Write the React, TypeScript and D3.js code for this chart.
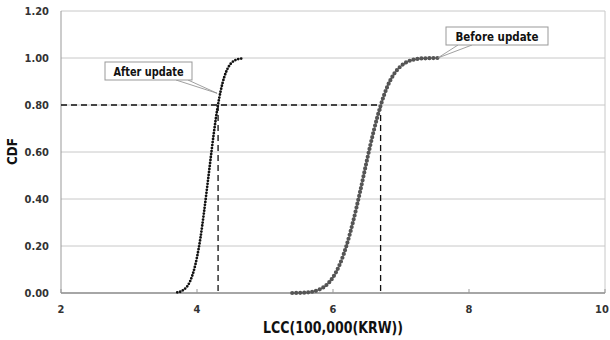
import React from "react";
import * as d3 from "d3";

// LCC (x 100,000 KRW) vs cumulative probability
const afterLcc = [3.71, 3.75, 3.8, 3.85, 3.9, 3.95, 4.0, 4.05, 4.1, 4.15, 4.2, 4.25, 4.3, 4.35, 4.4, 4.45, 4.5, 4.55, 4.6, 4.66];
const afterCdf = [0.003, 0.005, 0.013, 0.026, 0.051, 0.092, 0.152, 0.233, 0.337, 0.452, 0.571, 0.686, 0.785, 0.862, 0.918, 0.955, 0.977, 0.989, 0.995, 0.998];

const beforeLcc = [5.4, 5.6, 5.8, 5.9, 6.0, 6.1, 6.2, 6.3, 6.4, 6.5, 6.6, 6.7, 6.8, 6.9, 7.0, 7.1, 7.2, 7.3, 7.4, 7.54];
const beforeCdf = [0.0, 0.002, 0.015, 0.033, 0.067, 0.122, 0.203, 0.309, 0.433, 0.566, 0.691, 0.797, 0.879, 0.933, 0.966, 0.985, 0.994, 0.998, 0.999, 1.0];

const xTicks = [2, 4, 6, 8, 10];
const yTicks = [0, 0.2, 0.4, 0.6, 0.8, 1.0, 1.2];

const level = 0.8;
const afterAtLevel = 4.31;
const beforeAtLevel = 6.7;

const font = "'DejaVu Sans Condensed', 'DejaVu Sans', sans-serif";

export default function App() {
  const svgRef = React.useRef<SVGSVGElement>(null);
  const width = 610;
  const height = 340;

  React.useEffect(() => {
    const svg = d3.select(svgRef.current);
    svg.selectAll("*").remove();

    const x = d3.scaleLinear().domain([2, 10]).range([61, 605]);
    const y = d3.scaleLinear().domain([0, 1.2]).range([293, 11]);

    const label = (sel: any, size: number, fill = "#333") =>
      sel
        .attr("font-family", font)
        .attr("font-weight", "bold")
        .attr("font-size", size)
        .attr("fill", fill);

    /* grid + frame */
    svg
      .append("g")
      .selectAll("line")
      .data(yTicks.slice(1))
      .enter()
      .append("line")
      .attr("x1", x(2))
      .attr("x2", x(10))
      .attr("y1", (d) => y(d))
      .attr("y2", (d) => y(d))
      .attr("stroke", "#c8c8c8")
      .attr("stroke-width", 1);

    svg
      .append("line")
      .attr("x1", x(10))
      .attr("x2", x(10))
      .attr("y1", y(0))
      .attr("y2", y(1.2))
      .attr("stroke", "#c8c8c8");

    svg
      .append("line")
      .attr("x1", x(2))
      .attr("x2", x(2))
      .attr("y1", y(0))
      .attr("y2", y(1.2))
      .attr("stroke", "#999");

    svg
      .append("line")
      .attr("x1", x(2))
      .attr("x2", x(10))
      .attr("y1", y(0))
      .attr("y2", y(0))
      .attr("stroke", "#888")
      .attr("stroke-width", 1.5);

    /* x ticks (inside) */
    svg
      .append("g")
      .selectAll("line")
      .data(xTicks)
      .enter()
      .append("line")
      .attr("x1", (d) => x(d))
      .attr("x2", (d) => x(d))
      .attr("y1", y(0))
      .attr("y2", y(0) - 4)
      .attr("stroke", "#999");

    /* tick labels */
    label(
      svg
        .append("g")
        .selectAll("text")
        .data(yTicks)
        .enter()
        .append("text")
        .attr("x", 49)
        .attr("y", (d) => y(d) + 4)
        .attr("text-anchor", "end")
        .text((d) => d.toFixed(2)),
      11
    );

    label(
      svg
        .append("g")
        .selectAll("text")
        .data(xTicks)
        .enter()
        .append("text")
        .attr("x", (d) => Math.min(x(d), 602))
        .attr("y", 313)
        .attr("text-anchor", "middle")
        .text((d) => d),
      11
    );

    /* axis titles */
    label(
      svg
        .append("text")
        .attr("x", 263)
        .attr("y", 333)
        .attr("textLength", 140)
        .attr("lengthAdjust", "spacingAndGlyphs")
        .text("LCC(100,000(KRW))"),
      16,
      "#111"
    );

    label(
      svg
        .append("text")
        .attr("transform", "translate(17,165) rotate(-90)")
        .attr("textLength", 27)
        .attr("lengthAdjust", "spacingAndGlyphs")
        .text("CDF"),
      14,
      "#111"
    );

    /* dashed guides at 0.80 */
    const dash = svg.append("g").attr("stroke", "#111").attr("stroke-width", 1.3).attr("stroke-dasharray", "6 4");
    dash.append("line").attr("x1", x(2)).attr("x2", x(beforeAtLevel)).attr("y1", y(level)).attr("y2", y(level));
    dash.append("line").attr("x1", x(afterAtLevel)).attr("x2", x(afterAtLevel)).attr("y1", y(level)).attr("y2", y(0));
    dash.append("line").attr("x1", x(beforeAtLevel)).attr("x2", x(beforeAtLevel)).attr("y1", y(level)).attr("y2", y(0));

    /* curves, drawn as dotted strokes */
    const line = d3
      .line<[number, number]>()
      .x((d) => x(d[0]))
      .y((d) => y(d[1]))
      .curve(d3.curveMonotoneX);

    const before = beforeLcc.map((v, i) => [v, beforeCdf[i]] as [number, number]);
    const after = afterLcc.map((v, i) => [v, afterCdf[i]] as [number, number]);

    svg
      .append("path")
      .attr("d", line(before))
      .attr("fill", "none")
      .attr("stroke", "#555")
      .attr("stroke-width", 4.2)
      .attr("stroke-linecap", "round")
      .attr("stroke-dasharray", "0 4");

    svg
      .append("path")
      .attr("d", line(after))
      .attr("fill", "none")
      .attr("stroke", "#111")
      .attr("stroke-width", 2.8)
      .attr("stroke-linecap", "round")
      .attr("stroke-dasharray", "0 3");

    /* callouts */
    const callout = (text: string, bx: number, by: number, bw: number, tw: number, tip: [number, number], base: [number, number, number, number]) => {
      const g = svg.append("g");
      g.append("path")
        .attr("d", `M${base[0]},${base[1]}L${tip[0]},${tip[1]}L${base[2]},${base[3]}`)
        .attr("fill", "none")
        .attr("stroke", "#888")
        .attr("stroke-width", 0.8);
      g.append("rect")
        .attr("x", bx)
        .attr("y", by)
        .attr("width", bw)
        .attr("height", 18)
        .attr("fill", "#fff")
        .attr("stroke", "#999");
      label(
        g
          .append("text")
          .attr("x", bx + (bw - tw) / 2)
          .attr("y", by + 13.5)
          .attr("textLength", tw)
          .attr("lengthAdjust", "spacingAndGlyphs")
          .text(text),
        13,
        "#111"
      );
    };

    callout("After update", 105, 62, 87, 70, [x(afterAtLevel) - 1, y(0.85)], [176, 80, 188, 80]);
    callout("Before update", 446, 27, 102, 83, [x(7.54), y(1.0)], [458, 45, 472, 45]);
  }, []);

  return (
    <svg
      ref={svgRef}
      width={width}
      height={height}
      style={{ position: "absolute", left: 0, top: 0, background: "#fff" }}
    />
  );
}
